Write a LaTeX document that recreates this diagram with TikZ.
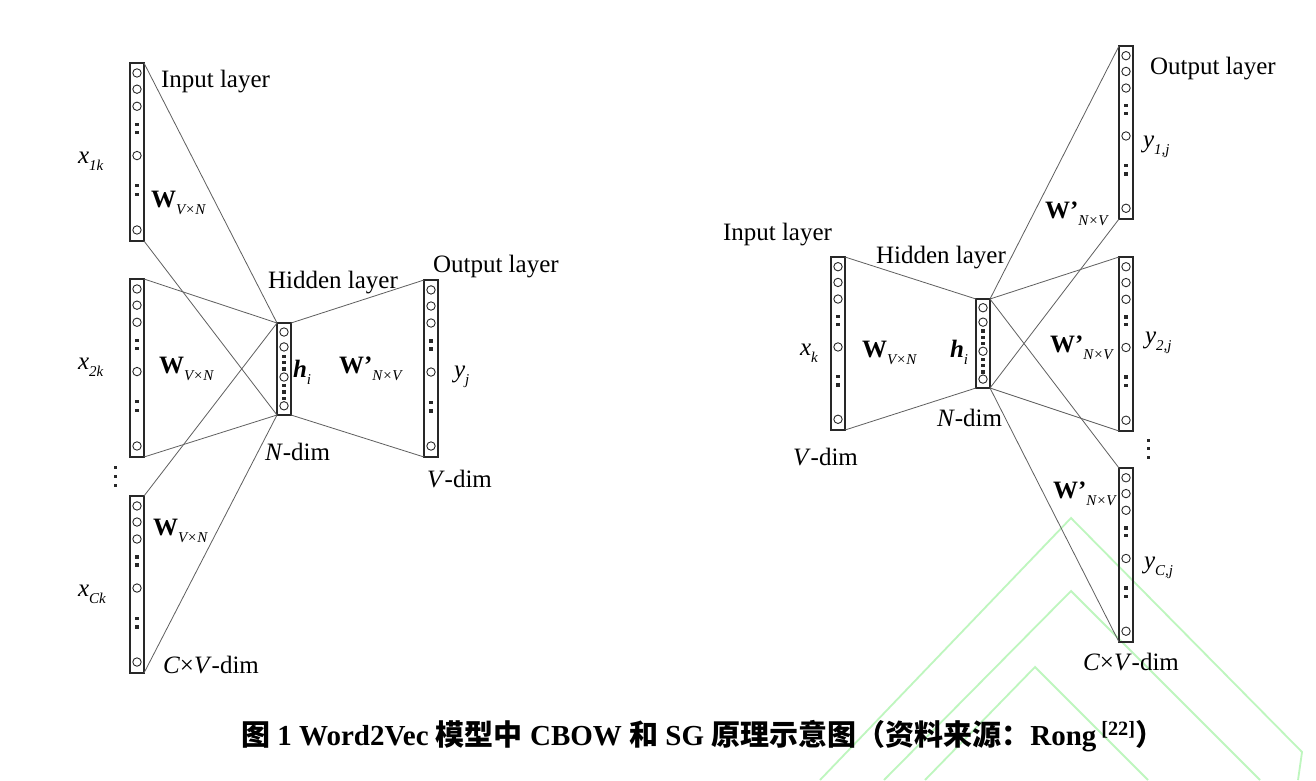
\documentclass[tikz,border=0pt]{standalone}
\usepackage{fontspec}
\setmainfont{Liberation Serif}
\newfontfamily\cjk{Noto Sans CJK SC}
\usetikzlibrary{calc}
\definecolor{wmgreen}{RGB}{190,246,190}
\definecolor{ink}{RGB}{40,40,40}
\definecolor{wire}{RGB}{95,95,95}
\newcommand{\sbs}[1]{\raisebox{-0.28em}{\fontsize{15}{15}\selectfont\itshape #1}}
\newcommand{\fillvec}[2]{%
  \foreach \f in {0.056,0.147,0.243,0.52,0.938}
    \draw[cir] ($(#1.north)+(0,\f*#2)$) circle (4.2);
  \foreach \f in {0.345,0.39,0.69,0.74}
    \fill[ink] ($(#1.north)+(-1.6,\f*#2-1.6)$) rectangle +(3.2,3.2);
}
\newcommand{\fillhid}[2]{%
  \foreach \f in {0.098,0.26,0.587,0.90}
    \draw[cir] ($(#1.north)+(0,\f*#2)$) circle (4.2);
  \foreach \f in {0.36,0.43,0.50,0.68,0.75,0.82}
    \fill[ink] ($(#1.north)+(-1.6,\f*#2-1.6)$) rectangle +(3.2,3.2);
}
\begin{document}
\begin{tikzpicture}[x=1pt,y=-1pt,
  vecbox/.style={draw=ink, line width=1.3pt, inner sep=0, outer sep=0, minimum width=14pt},
  cir/.style={draw=ink, line width=0.9pt},
  conn/.style={draw=wire, line width=0.8pt},
  lbl/.style={inner sep=0, outer sep=0, anchor=base west, font=\fontsize{25}{30}\selectfont},
  wm/.style={draw=wmgreen, line width=1.8pt}]
\useasboundingbox[fill=white] (0,0) rectangle (1316,780);

% watermark
\draw[wm] (820,780) -- (1071,518) -- (1302,752) -- (1298,780);
\draw[wm] (884,780) -- (1071,591) -- (1260,780);
\draw[wm] (925,780) -- (1035,667) -- (1148,780);

% ---------- CBOW ----------
\node[vecbox, minimum height=178, anchor=north west] (in1) at (130,63) {};
\node[vecbox, minimum height=178, anchor=north west] (in2) at (130,279) {};
\node[vecbox, minimum height=177, anchor=north west] (in3) at (130,496) {};
\node[vecbox, minimum height=92,  anchor=north west] (hidL) at (277,323) {};
\node[vecbox, minimum height=177, anchor=north west] (outL) at (424,280) {};

\foreach \v in {in1,in2,in3}{
  \draw[conn] (\v.north east) -- (hidL.north west);
  \draw[conn] (\v.south east) -- (hidL.south west);
}
\draw[conn] (hidL.north east) -- (outL.north west);
\draw[conn] (hidL.south east) -- (outL.south west);

\fillvec{in1}{178}
\fillvec{in2}{178}
\fillvec{in3}{177}
\fillvec{outL}{177}
\fillhid{hidL}{92}

\foreach \yy in {467,476,485} \fill[ink] (113.5,\yy-1.5) rectangle +(3,3);

\node[lbl] (tInL) at (161,87) {Input layer};
\node[lbl] (x1) at (78,163) {\textit{x}\sbs{1k}};
\node[lbl] (x2) at (78,369) {\textit{x}\sbs{2k}};
\node[lbl] (x3) at (78,596) {\textit{x}\sbs{Ck}};
\node[lbl] (w1) at (151,207) {\textbf{W}\sbs{V×N}};
\node[lbl] (w2) at (159,373) {\textbf{W}\sbs{V×N}};
\node[lbl] (w3) at (153,535) {\textbf{W}\sbs{V×N}};
\node[lbl] (cvL) at (163,673) {\textit{C}×\textit{V}-dim};
\node[lbl] (hlL) at (268,288) {Hidden layer};
\node[lbl] (hiL) at (293,377) {\textbf{\textit{h}}\sbs{i}};
\node[lbl] (wpL) at (339,373) {\textbf{W’}\sbs{N×V}};
\node[lbl] (yj) at (454,377) {\textit{y}\sbs{j}};
\node[lbl] (ndL) at (265,460) {\textit{N}-dim};
\node[lbl] (olL) at (433,272) {Output layer};
\node[lbl] (vdL) at (427,487) {\textit{V}-dim};

% ---------- Skip-gram ----------
\node[vecbox, minimum height=173, anchor=north west] (inR) at (831,257) {};
\node[vecbox, minimum height=89,  anchor=north west] (hidR) at (976,299) {};
\node[vecbox, minimum height=173, anchor=north west] (out1) at (1119,46) {};
\node[vecbox, minimum height=174, anchor=north west] (out2) at (1119,257) {};
\node[vecbox, minimum height=174, anchor=north west] (out3) at (1119,468) {};

\draw[conn] (inR.north east) -- (hidR.north west);
\draw[conn] (inR.south east) -- (hidR.south west);
\foreach \v in {out1,out2,out3}{
  \draw[conn] (hidR.north east) -- (\v.north west);
  \draw[conn] (hidR.south east) -- (\v.south west);
}

\fillvec{inR}{173}
\fillvec{out1}{173}
\fillvec{out2}{174}
\fillvec{out3}{174}
\fillhid{hidR}{89}

\foreach \yy in {440,448,457} \fill[ink] (1146.5,\yy-1.5) rectangle +(3,3);

\node[lbl] (tInR) at (723,240) {Input layer};
\node[lbl] (hlR) at (876,263) {Hidden layer};
\node[lbl] (xk) at (800,355) {\textit{x}\sbs{k}};
\node[lbl] (wR) at (862,357) {\textbf{W}\sbs{V×N}};
\node[lbl] (hiR) at (950,357) {\textbf{\textit{h}}\sbs{i}};
\node[lbl] (ndR) at (937,426) {\textit{N}-dim};
\node[lbl] (vdR) at (793,465) {\textit{V}-dim};
\node[lbl] (olR) at (1150,74) {Output layer};
\node[lbl] (y1) at (1143,147) {\textit{y}\sbs{1,j}};
\node[lbl] (wp1) at (1045,218) {\textbf{W’}\sbs{N×V}};
\node[lbl] (y2) at (1145,343) {\textit{y}\sbs{2,j}};
\node[lbl] (wp2) at (1050,352) {\textbf{W’}\sbs{N×V}};
\node[lbl] (wp3) at (1053,498) {\textbf{W’}\sbs{N×V}};
\node[lbl] (yC) at (1144,568) {\textit{y}\sbs{C,j}};
\node[lbl] (cvR) at (1083,670) {\textit{C}×\textit{V}-dim};

% caption
\node[inner sep=0, anchor=base west, font=\bfseries\fontsize{29}{34}\selectfont] (cap) at (241,745)
  {{\cjk 图} 1 Word2Vec {\cjk 模型中} CBOW {\cjk 和} SG {\cjk 原理示意图（资料来源：}Rong\,\textsuperscript{[22]}{\cjk ）}};
\end{tikzpicture}
\end{document}
